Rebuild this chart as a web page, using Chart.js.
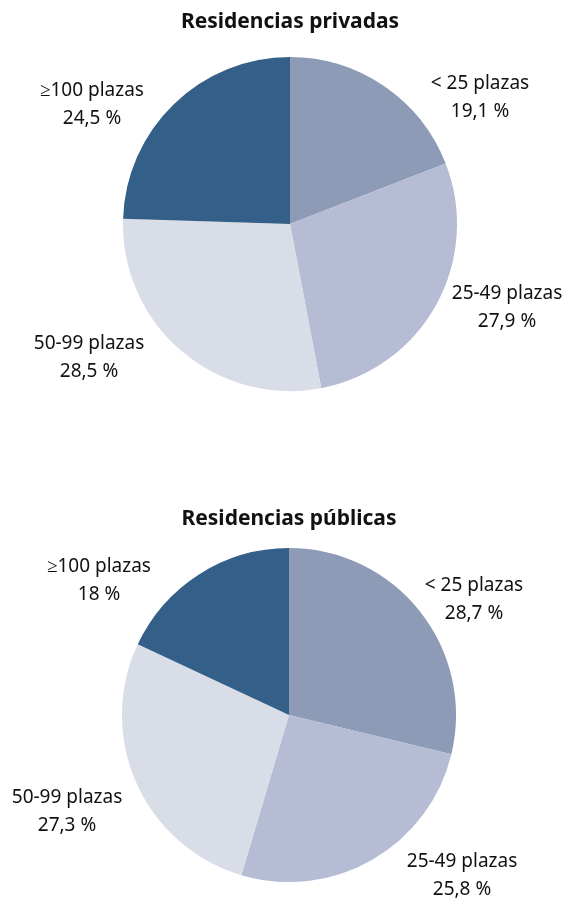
<!DOCTYPE html>
<html>
<head>
<meta charset="utf-8">
<script src="https://cdn.jsdelivr.net/npm/chart.js@4"></script>
<style>
  body { margin: 0; background: #fff; }
  .caja { position: absolute; left: 0; width: 563px; }
</style>
</head>
<body>
<div class="caja" style="top:0;height:460px"><canvas id="privadas"></canvas></div>
<div class="caja" style="top:492px;height:408px"><canvas id="publicas"></canvas></div>
<script>
// Datos
const categorias = ['< 25 plazas', '25-49 plazas', '50-99 plazas', '≥100 plazas'];
const privadas = [19.1, 27.9, 28.5, 24.5];
const publicas = [28.7, 25.8, 27.3, 18];

const colores = ['#8d9bb7', '#b5bcd3', '#d9dde8', '#335f88'];

// Etiquetas de texto fuera de la tarta (desplazamiento desde el centro)
const etiquetasFuera = {
    id: 'etiquetasFuera',
    afterDraw(chart, args, opts) {
        const ctx = chart.ctx;
        const meta = chart.getDatasetMeta(0);
        const valores = chart.data.datasets[0].data;
        ctx.save();
        ctx.fillStyle = '#111';
        ctx.font = '19px "Noto Sans"';
        ctx.textAlign = 'center';
        ctx.textBaseline = 'middle';
        meta.data.forEach((arc, i) => {
            const [dx, dy] = opts.desplazamientos[i];
            const x = arc.x + dx;
            const y = arc.y + dy;
            const pct = String(valores[i]).replace('.', ',') + ' %';
            ctx.fillText(chart.data.labels[i], x, y - 14);
            ctx.fillText(pct, x, y + 14);
        });
        ctx.restore();
    }
};

function crearTarta(id, titulo, datos, padding, tituloPad, desplazamientos) {
    new Chart(document.getElementById(id), {
        type: 'pie',
        data: {
            labels: categorias,
            datasets: [{
                data: datos,
                backgroundColor: colores,
                borderWidth: 0
            }]
        },
        options: {
            responsive: true,
            maintainAspectRatio: false,
            animation: false,
            radius: 167,
            layout: { padding: padding },
            plugins: {
                legend: { display: false },
                tooltip: { enabled: false },
                title: {
                    display: true,
                    text: titulo,
                    color: '#111',
                    font: { family: 'Noto Sans', size: 21, weight: 'bold' },
                    padding: tituloPad
                },
                etiquetasFuera: { desplazamientos: desplazamientos }
            }
        },
        plugins: [etiquetasFuera]
    });
}

crearTarta('privadas', 'Residencias privadas', privadas,
    { left: 17, bottom: 50 }, { top: 9, bottom: 4 },
    [[190, -127], [217, 83], [-201, 133], [-198, -120]]);

crearTarta('publicas', 'Residencias públicas', publicas,
    { left: 15, bottom: 3 }, { top: 14, bottom: 2 },
    [[185, -116], [173, 160], [-222, 96], [-190, -135]]);
</script>
</body>
</html>
